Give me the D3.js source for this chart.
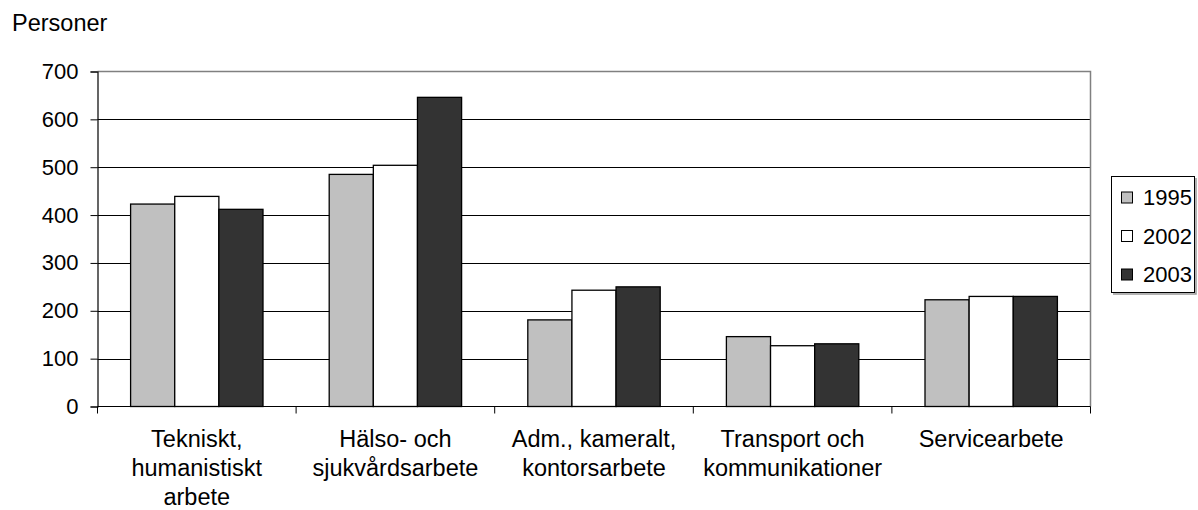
<!DOCTYPE html>
<html>
<head>
<meta charset="utf-8">
<script src="https://cdn.jsdelivr.net/npm/d3@7"></script>
<style>
  html, body { margin: 0; padding: 0; background: #fff; }
  svg text { font-family: "Liberation Sans", Arial, sans-serif; fill: #000; }
</style>
</head>
<body>
<svg id="chart" width="1198" height="510"></svg>
<script>
const categories = [
  ["Tekniskt,", "humanistiskt", "arbete"],
  ["Hälso- och", "sjukvårdsarbete"],
  ["Adm., kameralt,", "kontorsarbete"],
  ["Transport och", "kommunikationer"],
  ["Servicearbete"]
];
const seriesNames = ["1995", "2002", "2003"];
const values1995 = [423, 485, 181, 146, 223];
const values2002 = [439, 504, 243, 127, 230];
const values2003 = [412, 646, 250, 131, 230];
const yTicks = [0, 100, 200, 300, 400, 500, 600, 700];
const yTitle = "Personer";
const seriesColors = ["#c0c0c0", "#ffffff", "#333333"];

(function () {
const seriesValues = [values1995, values2002, values2003];
const catKeys = categories.map(c => c.join(" "));

const svg = d3.select("#chart");
const pLeft = 97.5, pRight = 1090.5, pTop = 71.5, pBottom = 406.5;
const textSize = 23.5, numSize = 22;

const y = d3.scaleLinear().domain([0, 700]).range([pBottom, pTop]);
const x0 = d3.scaleBand().domain(catKeys).range([pLeft, pRight]).padding(0);
const bw = x0.bandwidth();
const x1 = d3.scaleBand().domain(seriesNames).range([bw / 6, bw * 5 / 6]).padding(0);

// gridlines
svg.append("g").selectAll("line").data(yTicks.filter(t => t > 0 && t < 700)).join("line")
  .attr("x1", pLeft).attr("x2", pRight)
  .attr("y1", d => Math.round(y(d)) + 0.5).attr("y2", d => Math.round(y(d)) + 0.5)
  .attr("stroke", "#000").attr("stroke-width", 1);

// plot border top/right (gray)
svg.append("path")
  .attr("d", `M${pLeft},${pTop}H${pRight}V${pBottom}`)
  .attr("fill", "none").attr("stroke", "#808080").attr("stroke-width", 1.5);

// bars
const groups = svg.append("g").selectAll("g").data(catKeys).join("g")
  .attr("transform", d => `translate(${x0(d)},0)`);
groups.selectAll("rect").data((d, i) => seriesNames.map((s, j) => ({ s, j, v: seriesValues[j][i] }))).join("rect")
  .attr("x", d => x1(d.s))
  .attr("width", x1.bandwidth())
  .attr("y", d => y(d.v))
  .attr("height", d => pBottom - y(d.v))
  .attr("fill", d => seriesColors[d.j])
  .attr("stroke", "#000").attr("stroke-width", 1.3);

// y axis
const yAxis = d3.axisLeft(y).tickValues(yTicks).tickSize(7).tickPadding(12).tickFormat(d3.format("d"));
const gy = svg.append("g").attr("transform", `translate(${pLeft},0)`).call(yAxis);
gy.select(".domain").attr("stroke", "#000").attr("stroke-width", 1.2);
gy.selectAll(".tick line").attr("stroke", "#000");
gy.selectAll(".tick text").attr("font-size", numSize).attr("font-family", "Liberation Sans, Arial, sans-serif").attr("fill", "#000");

// x axis
const xTickPositions = d3.range(catKeys.length + 1).map(i => pLeft + i * bw);
const gx = svg.append("g");
gx.append("line").attr("x1", pLeft).attr("x2", pRight).attr("y1", pBottom).attr("y2", pBottom)
  .attr("stroke", "#000").attr("stroke-width", 1.2);
gx.selectAll("line.tk").data(xTickPositions).join("line").attr("class", "tk")
  .attr("x1", d => d).attr("x2", d => d).attr("y1", pBottom).attr("y2", pBottom + 7)
  .attr("stroke", "#000");

// category labels
const lab = svg.append("g").selectAll("text").data(categories).join("text")
  .attr("text-anchor", "middle")
  .attr("font-size", textSize)
  .attr("x", (d, i) => x0(catKeys[i]) + bw / 2);
lab.selectAll("tspan").data(d => d).join("tspan")
  .attr("x", function () { return d3.select(this.parentNode).attr("x"); })
  .attr("y", (d, i) => 447 + i * 29)
  .text(d => d);

// y title
svg.append("text").attr("x", 12).attr("y", 31).attr("font-size", textSize).text(yTitle);

// legend
const lg = svg.append("g");
lg.append("rect").attr("x", 1111.5).attr("y", 176.5).attr("width", 83).attr("height", 116)
  .attr("fill", "#fff").attr("stroke", "#000").attr("stroke-width", 1);
lg.append("path").attr("d", "M1113,294H1196V178")
  .attr("fill", "none").attr("stroke", "#999").attr("stroke-width", 1.5);
const items = lg.selectAll("g.item").data(seriesNames).join("g").attr("class", "item")
  .attr("transform", (d, i) => `translate(0,${197.5 + i * 38.5})`);
items.append("rect").attr("x", 1121.5).attr("y", -5.5).attr("width", 11).attr("height", 11)
  .attr("fill", (d, i) => seriesColors[i]).attr("stroke", "#000").attr("stroke-width", 1);
items.append("text").attr("x", 1143).attr("y", 0).attr("dy", "0.36em")
  .attr("font-size", numSize).text(d => d);
})();
</script>
</body>
</html>
